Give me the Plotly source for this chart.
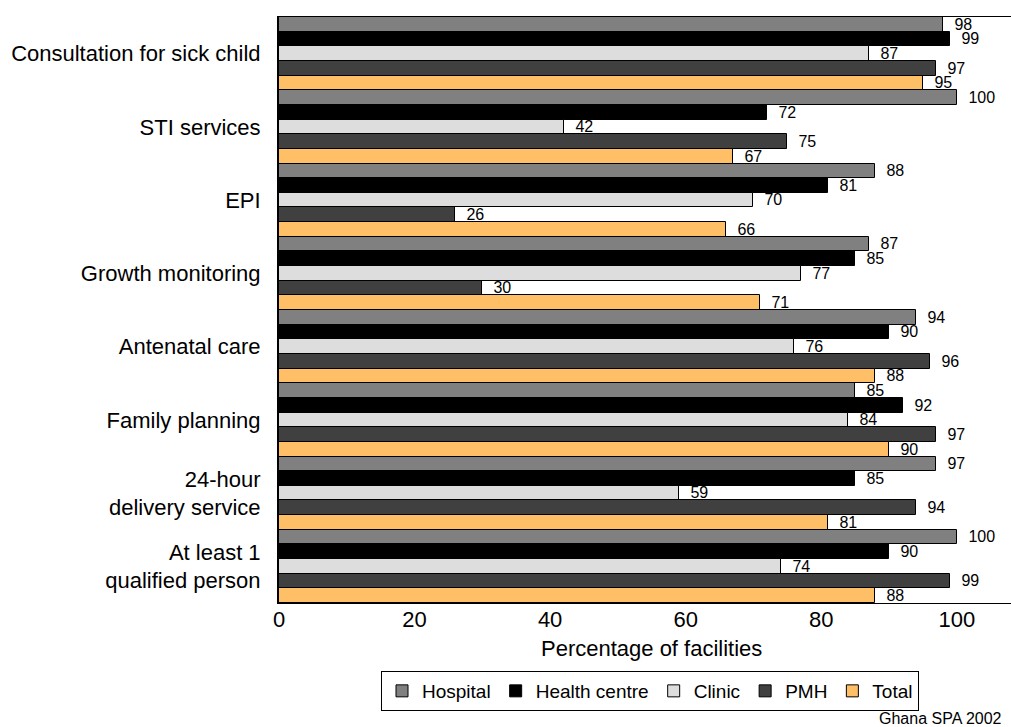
import plotly.graph_objects as go

categories = ["Consultation for sick child", "STI services", "EPI", "Growth monitoring",
              "Antenatal care", "Family planning", "24-hour<br>delivery service",
              "At least 1<br>qualified person"]
series_names = ["Hospital", "Health centre", "Clinic", "PMH", "Total"]
hospital = [98, 100, 88, 87, 94, 85, 97, 100]
health_centre = [99, 72, 81, 85, 90, 92, 85, 90]
clinic = [87, 42, 70, 77, 76, 84, 59, 74]
pmh = [97, 75, 26, 30, 96, 97, 94, 99]
total = [95, 67, 66, 71, 88, 90, 81, 88]
colors = ["#808080", "#000000", "#dddddd", "#404040", "#ffbf66"]
x_ticks = [0, 20, 40, 60, 80, 100]

FONT = "Liberation Sans, Arial, sans-serif"
L, R, T, B = 279, 0, 17, 124
W, H = 1011, 727
pw, ph = W - L - R, H - T - B

fig = go.Figure()
for name, vals, col in zip(series_names, [hospital, health_centre, clinic, pmh, total], colors):
    fig.add_trace(go.Bar(
        y=categories, x=vals, name=name, orientation="h",
        marker=dict(color=col, line=dict(color="#000000", width=1)),
        text=vals, texttemplate="\u00a0\u00a0%{x}", textposition="outside",
        constraintext="none", cliponaxis=False,
        textfont=dict(family=FONT, size=16, color="#000000"),
    ))

def px_x(p):
    return (p - L) / pw

def px_y(p):
    return (H - B - p) / ph

fig.update_layout(
    width=W, height=H,
    margin=dict(l=L, r=R, t=T, b=B, pad=0),
    barmode="group", bargap=0, bargroupgap=0,
    plot_bgcolor="white", paper_bgcolor="white",
    font=dict(family=FONT, size=22, color="#000000"),
    xaxis=dict(range=[0, 108], tickvals=x_ticks, showgrid=False, zeroline=False,
               showline=True, linecolor="#000000", linewidth=1, mirror=True,
               ticks="", ticklabelstandoff=-3, tickfont=dict(size=22)),
    yaxis=dict(autorange="reversed", showgrid=False, showline=True,
               linecolor="#000000", linewidth=2, ticks="", ticklabelstandoff=12,
               tickfont=dict(size=22)),
    legend=dict(orientation="h", x=px_x(650), xanchor="center", y=px_y(671), yanchor="top",
                bordercolor="#000000", borderwidth=1, font=dict(size=19),
                itemwidth=30, tracegroupgap=0, traceorder="normal",
                itemclick=False),
    showlegend=True,
    annotations=[
        dict(text="Percentage of facilities", xref="paper", yref="paper",
             x=px_x(651), y=px_y(648), xanchor="center", yanchor="middle",
             showarrow=False, font=dict(size=22)),
        dict(text="Ghana SPA 2002", xref="paper", yref="paper",
             x=px_x(1004), y=px_y(718), xanchor="right", yanchor="middle",
             showarrow=False, font=dict(size=16)),
    ],
)

fig.write_html("out.html")
